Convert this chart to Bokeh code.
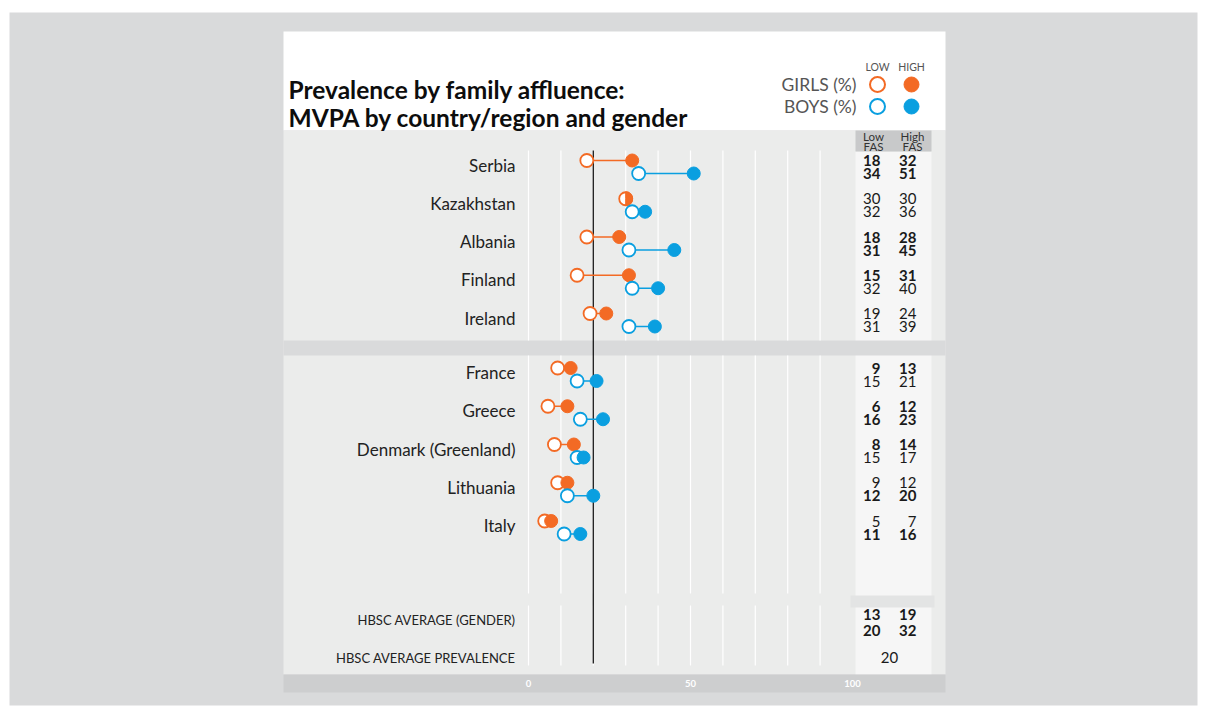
import math
from bokeh.plotting import figure
from bokeh.models import Range1d
from bokeh.core.properties import value
from bokeh.embed import file_html
from bokeh.resources import INLINE

# ---------------- data ----------------
countries = ["Serbia", "Kazakhstan", "Albania", "Finland", "Ireland",
             "France", "Greece", "Denmark (Greenland)", "Lithuania", "Italy"]
girls_low = [18, 30, 18, 15, 19, 9, 6, 8, 9, 5]
girls_high = [32, 30, 28, 31, 24, 13, 12, 14, 12, 7]
boys_low = [34, 32, 31, 32, 31, 15, 16, 15, 12, 11]
boys_high = [51, 36, 45, 40, 39, 21, 23, 17, 20, 16]
girls_bold = [True, False, True, True, False, True, True, True, False, False]
boys_bold = [True, False, True, False, False, False, True, False, True, True]
avg_gender_label = "HBSC AVERAGE (GENDER)"
avg_girls = [13, 19]
avg_boys = [20, 32]
avg_prev_label = "HBSC AVERAGE PREVALENCE"
avg_prevalence = 20
ticks = [0, 50, 100]
grid_values = [0, 10, 20, 30, 40, 50, 60, 70, 80, 90]
title_lines = ["Prevalence by family affluence:", "MVPA by country/region and gender"]

# ---------------- style ----------------
ORANGE = "#f36a24"
BLUE = "#0a9fe0"
OUTER = "#d9dadb"
PANEL = "#ebeceb"
TABLE = "#f6f6f6"
HEAD = "#c8c9ca"
TXT = "#1a1a1a"
FONT = value("Lato")

W, H = 1204, 712
# value scale: 0 -> page x 528, 100 -> page x 852
PX_PER = 3.24
X0_PAGE = 528
vmin = (0 - X0_PAGE) / PX_PER
vmax = (W - X0_PAGE) / PX_PER

p = figure(width=W, height=H, output_backend="svg", toolbar_location=None,
           x_range=Range1d(vmin, vmax), y_range=Range1d(H, 0),
           min_border=0, x_axis_location=None, y_axis_location=None,
           outline_line_color=None, background_fill_color="white",
           border_fill_color="white")
p.extra_x_ranges = {"px": Range1d(0, W)}
p.grid.visible = False

def box(l, r, t, b, color):
    p.quad(left=[l], right=[r], top=[t], bottom=[b], fill_color=color,
           line_color=None, x_range_name="px")

def txt(x, y, s, size, align="left", bold=False, color=TXT, baseline="middle"):
    p.text(x=[x], y=[y], text=[s], text_font=FONT, text_font_size=f"{size}px",
           text_align=align, text_baseline=baseline, text_color=color,
           text_font_style="bold" if bold else "normal", x_range_name="px")

# backgrounds
box(9, 1197, 12, 705, OUTER)
box(283, 945, 31, 130, "white")
box(283, 945, 130, 674, PANEL)
box(855, 931, 151, 674, TABLE)
box(855, 931, 130, 151, HEAD)
box(283, 945, 340, 355, OUTER)
box(850, 934, 595, 607, "#e3e4e4")
box(283, 945, 674, 692, "#cdcecf")

# gridlines
for (ya, yb) in [(150, 340), (355, 593), (605, 665)]:
    p.segment(x0=grid_values, x1=grid_values, y0=[ya] * len(grid_values),
              y1=[yb] * len(grid_values), line_color="white", line_width=1.2)
# average prevalence line
p.segment(x0=[avg_prevalence], x1=[avg_prevalence], y0=[150], y1=[663],
          line_color="#1a1a1a", line_width=1.3)

# tick labels
for t in ticks:
    p.text(x=[t], y=[683], text=[str(t)], text_font=FONT, text_font_size="9.5px",
           text_align="center", text_baseline="middle", text_color="white",
           text_font_style="bold")

# title
txt(288, 89, title_lines[0], 24.5, bold=True, color="#0d0d0d", baseline="alphabetic")
txt(288, 117, title_lines[1], 24.5, bold=True, color="#0d0d0d", baseline="alphabetic")

# legend
txt(877, 66, "LOW", 10.5, align="center", color="#555555")
txt(911, 66, "HIGH", 10.5, align="center", color="#555555")
txt(856, 84, "GIRLS (%)", 17.5, align="right", color="#555555")
txt(856, 106, "BOYS (%)", 17.5, align="right", color="#555555")
p.scatter(x=[877], y=[84], size=15, fill_color="white", line_color=ORANGE, line_width=2, x_range_name="px")
p.scatter(x=[911], y=[84], size=15, fill_color=ORANGE, line_color=ORANGE, x_range_name="px")
p.scatter(x=[877], y=[106], size=15, fill_color="white", line_color=BLUE, line_width=2, x_range_name="px")
p.scatter(x=[911], y=[106], size=15, fill_color=BLUE, line_color=BLUE, x_range_name="px")

# table header
txt(873, 136, "Low", 11.5, align="center", color="#333333")
txt(873, 146, "FAS", 11.5, align="center", color="#333333")
txt(912, 136, "High", 11.5, align="center", color="#333333")
txt(912, 146, "FAS", 11.5, align="center", color="#333333")

# rows
centers = [166.5 + i * 38.25 + (16.25 if i >= 5 else 0) for i in range(len(countries))]
yg = [c - 6.5 for c in centers]
yb = [c + 6.5 for c in centers]

for i, c in enumerate(countries):
    txt(515, centers[i] - 2, c, 17, align="right", color="#222222")

# connecting lines
p.segment(x0=girls_low, x1=girls_high, y0=yg, y1=yg, line_color=ORANGE, line_width=1.5)
p.segment(x0=boys_low, x1=boys_high, y0=yb, y1=yb, line_color=BLUE, line_width=1.5)

R = 13
for lows, highs, ys, col in [(girls_low, girls_high, yg, ORANGE), (boys_low, boys_high, yb, BLUE)]:
    p.scatter(x=lows, y=ys, size=R, fill_color="white", line_color=col, line_width=1.8)
    hx = [h for h, l in zip(highs, lows) if h != l]
    hy = [y for h, l, y in zip(highs, lows, ys) if h != l]
    p.scatter(x=hx, y=hy, size=R, fill_color=col, line_color=col, line_width=1)
    ex = [h for h, l in zip(highs, lows) if h == l]
    ey = [y for h, l, y in zip(highs, lows, ys) if h == l]
    if ex:
        p.wedge(x=ex, y=ey, radius=R / 2 + 0.5, radius_units="screen",
                start_angle=-math.pi / 2, end_angle=math.pi / 2,
                fill_color=col, line_color=col)

# table values
for i in range(len(countries)):
    txt(880, yg[i], str(girls_low[i]), 15, align="right", bold=girls_bold[i])
    txt(916, yg[i], str(girls_high[i]), 15, align="right", bold=girls_bold[i])
    txt(880, yb[i], str(boys_low[i]), 15, align="right", bold=boys_bold[i])
    txt(916, yb[i], str(boys_high[i]), 15, align="right", bold=boys_bold[i])

# averages
txt(515, 619, avg_gender_label, 13, align="right", color="#222222")
txt(880, 614, str(avg_girls[0]), 15, align="right", bold=True)
txt(916, 614, str(avg_girls[1]), 15, align="right", bold=True)
txt(880, 630, str(avg_boys[0]), 15, align="right", bold=True)
txt(916, 630, str(avg_boys[1]), 15, align="right", bold=True)
txt(515, 657, avg_prev_label, 13, align="right", color="#222222")
txt(889, 657, str(avg_prevalence), 15, align="center")

open("out.html", "w").write(file_html(p, INLINE))
